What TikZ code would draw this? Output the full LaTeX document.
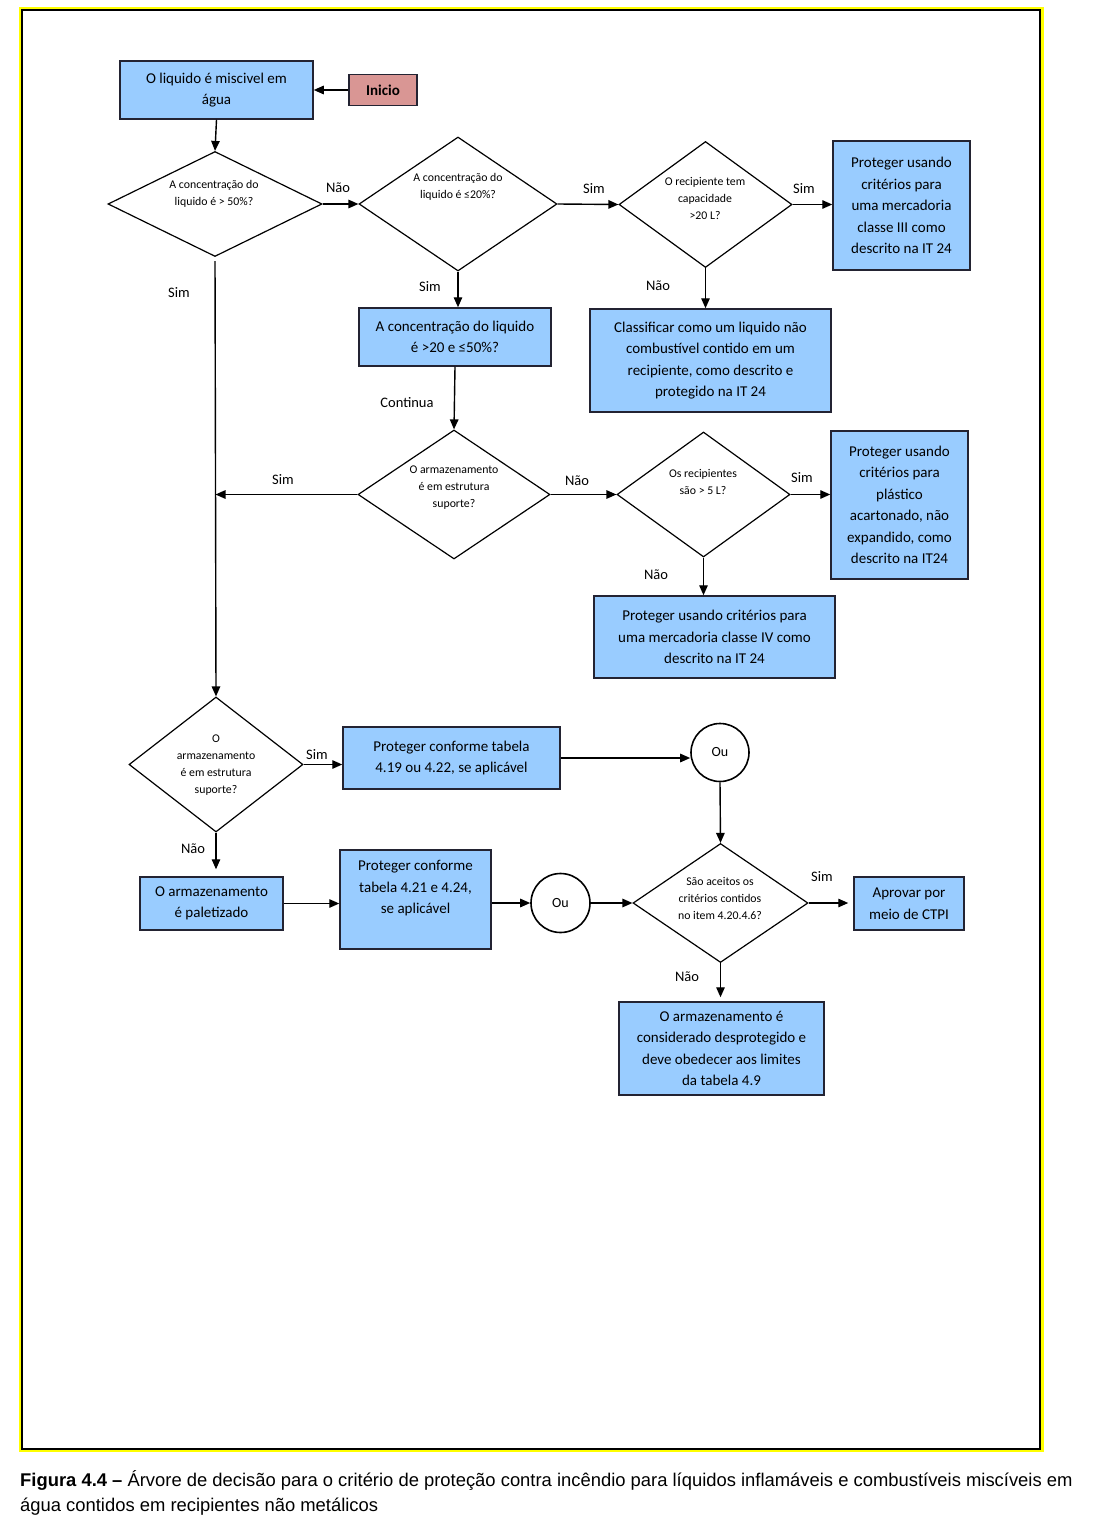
\documentclass[tikz,border=0pt]{standalone}
\usepackage{fontspec}
\setmainfont{Carlito}
\newfontfamily\capfont{Liberation Sans}
\usetikzlibrary{arrows.meta,shapes.geometric,calc}
\definecolor{boxblue}{RGB}{153,204,255}
\definecolor{boxpink}{RGB}{217,150,148}
\definecolor{boxline}{RGB}{35,35,50}
\definecolor{frameyellow}{RGB}{255,255,0}
\begin{document}
\begin{tikzpicture}[x=1pt,y=-1pt,
  box/.style={draw=boxline, line width=1.5pt, fill=boxblue, align=center, inner sep=0pt, font=\fontsize{15}{21.5}\selectfont},
  dia/.style={draw=black, line width=1.2pt, fill=white, diamond, inner sep=0pt},
  dtxt/.style={align=center, inner sep=0pt, font=\fontsize{11.8}{17}\selectfont},
  lbl/.style={inner sep=0pt, font=\fontsize{14.5}{17}\selectfont},
  orc/.style={circle, draw=black, line width=1.6pt, fill=white, inner sep=0pt, minimum size=58pt, font=\fontsize{14}{17}\selectfont},
  arr/.style={line width=1.4pt, -{Triangle[length=10pt,width=8.5pt]}},
]
\useasboundingbox (0,0) rectangle (1095,1525);
\fill[white] (0,0) rectangle (1095,1525);
% frame
\draw[frameyellow, line width=2.6pt] (20,8) rectangle (1042.2,1450.8);
\draw[black, line width=2pt] (22.3,10.3) rectangle (1040.3,1448.7);

% nodes
\node[box, minimum width=193, minimum height=58] (b1) at (216.5,90) {O liquido é miscivel em\\água};
\node[box, fill=boxpink, minimum width=68, minimum height=31, font=\bfseries\fontsize{15}{18}\selectfont] (ini) at (383,90) {Inicio};

\node[dia, minimum width=214, minimum height=105] (d1) at (215,204) {};
\node[dtxt] (d1t) at (214,194) {A concentração do\\liquido é > 50\%?};
\node[dia, minimum width=198, minimum height=134] (d2) at (458,204) {};
\node[dtxt] (d2t) at (458,187) {A concentração do\\liquido é ≤20\%?};
\node[dia, minimum width=173, minimum height=126] (d3) at (705.5,204.5) {};
\node[dtxt] (d3t) at (705,198.5) {O recipiente tem\\capacidade\\>20 L?};
\node[box, minimum width=137, minimum height=129] (b3) at (901.5,205.5) {Proteger usando\\critérios para\\uma mercadoria\\classe III como\\descrito na IT 24};
\node[box, minimum width=241, minimum height=103] (b4) at (710.5,360.5) {Classificar como um liquido não\\combustível contido em um\\recipiente, como descrito e\\protegido na IT 24};
\node[box, minimum width=192, minimum height=58] (b5) at (455,337) {A concentração do liquido\\é >20 e ≤50\%?};

\node[dia, minimum width=192, minimum height=129] (d4) at (454,494.5) {};
\node[dtxt] (d4t) at (454,488) {O armazenamento\\é em estrutura\\suporte?};
\node[dia, minimum width=173, minimum height=125] (d5) at (703.5,494.5) {};
\node[dtxt] (d5t) at (703,481.5) {Os recipientes\\são > 5 L?};
\node[box, minimum width=137, minimum height=148] (b6) at (899.5,505) {Proteger usando\\critérios para\\plástico\\acartonado, não\\expandido, como\\descrito na IT24};
\node[box, minimum width=241, minimum height=82] (b7) at (714.5,637) {Proteger usando critérios para\\uma mercadoria classe IV como\\descrito na IT 24};

\node[dia, minimum width=174, minimum height=135] (d6) at (216,764.5) {};
\node[dtxt] (d6t) at (216,765) {O\\armazenamento\\é em estrutura\\suporte?};
\node[box, minimum width=217, minimum height=62] (b8) at (451.5,758) {Proteger conforme tabela\\4.19 ou 4.22, se aplicável};
\node[orc] (c1) at (720,752.5) {Ou};
\node[box, minimum width=143, minimum height=53] (b9) at (211.5,903.5) {O armazenamento\\é paletizado};
\node[box, minimum width=151, minimum height=99] (b10) at (415.5,899.5) {};
\node[box, draw=none, fill=none] (b10t) at (415.5,888.5) {Proteger conforme\\tabela 4.21 e 4.24,\\se aplicável};
\node[orc, minimum size=59pt] (c2) at (560.5,903) {Ou};
\node[dia, minimum width=175, minimum height=119] (d7) at (720.5,903) {};
\node[dtxt] (d7t) at (720,898.5) {São aceitos os\\critérios contidos\\no item 4.20.4.6?};
\node[box, minimum width=110, minimum height=53] (b11) at (909,903.5) {Aprovar por\\meio de CTPI};
\node[box, minimum width=205, minimum height=93] (b12) at (721.5,1048.5) {O armazenamento é\\considerado desprotegido e\\deve obedecer aos limites\\da tabela 4.9};

\coordinate (j) at (215.5,494.5);

% connectors
\draw[arr] (ini.west) -- (b1.east);
\draw[arr] (b1.south) -- (d1.north);
\draw[arr] (d1.east) -- (d2.west);
\draw[arr] (d2.east) -- (d3.west);
\draw[arr] (d3.east) -- (d3.east -| b3.west);
\draw[arr] (d3.south) -- (d3.south |- b4.north);
\draw[arr] (d2.south) -- (d2.south |- b5.north);
\draw[arr] (b5.south) -- (d4.north);
\draw[arr] (d4.west) -- (j);
\draw[arr] (d4.east) -- (d5.west);
\draw[arr] (d5.east) -- (d5.east -| b6.west);
\draw[arr] (d5.south) -- (d5.south |- b7.north);
\draw[arr, shorten <=4pt] (d1.south) -- (d6.north);
\draw[arr] (d6.east) -- (d6.east -| b8.west);
\draw[arr] (b8.east) -- (b8.east -| c1.west);
\draw[arr] (c1.south) -- (d7.north);
\draw[arr, shorten >=7pt] (d6.south) -- (d6.south |- b9.north);
\draw[arr] (b9.east) -- (b9.east -| b10.west);
\draw[arr] (c2.west -| b10.east) -- (c2.west);
\draw[arr] (c2.east) -- (d7.west);
\draw[arr, shorten >=5pt] (d7.east) -- (d7.east -| b11.west);
\draw[arr, shorten >=4pt] (d7.south) -- (d7.south |- b12.north);

% labels
\node[lbl] (l1) at (338,188) {Não};
\node[lbl] (l2) at (594,189) {Sim};
\node[lbl] (l3) at (804,189) {Sim};
\node[lbl] (l4) at (658,286) {Não};
\node[lbl] (l5) at (430,287) {Sim};
\node[lbl] (l6) at (407,403) {Continua};
\node[lbl] (l7) at (283,480) {Sim};
\node[lbl] (l8) at (577,481) {Não};
\node[lbl] (l9) at (802,478) {Sim};
\node[lbl] (l10) at (656,575) {Não};
\node[lbl] (l11) at (179,293) {Sim};
\node[lbl] (l12) at (317,755) {Sim};
\node[lbl] (l13) at (193,849) {Não};
\node[lbl] (l14) at (822,877) {Sim};
\node[lbl] (l15) at (687,977) {Não};

% caption
\node[anchor=base west, inner sep=0pt, font=\capfont\fontsize{18.4}{25}\selectfont] (cap1) at (20,1486) {\textbf{Figura 4.4 –} Árvore de decisão para o critério de proteção contra incêndio para líquidos inflamáveis e combustíveis miscíveis em};
\node[anchor=base west, inner sep=0pt, font=\capfont\fontsize{18.4}{25}\selectfont] (cap2) at (20,1511) {água contidos em recipientes não metálicos};
\end{tikzpicture}
\end{document}
